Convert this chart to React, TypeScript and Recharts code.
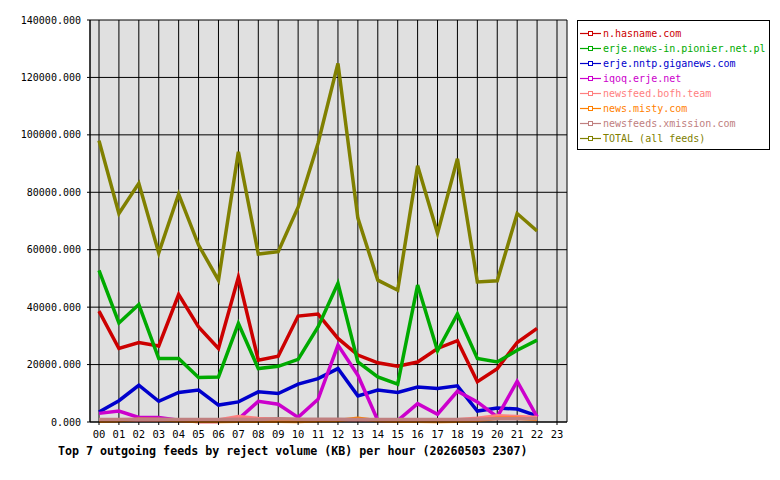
import { LineChart, Line, XAxis, YAxis, CartesianGrid, Legend } from "recharts";

const HOURS = [
  "00", "01", "02", "03", "04", "05", "06", "07", "08", "09", "10", "11",
  "12", "13", "14", "15", "16", "17", "18", "19", "20", "21", "22", "23",
];

// KB per hour, hours 00..22 (23 has no data yet)
const HASNAME = [38600, 25600, 27700, 26500, 44400, 33100, 25600, 50400, 21500, 22900, 36900, 37600, 29100, 23300, 20600, 19400, 20900, 25600, 28300, 14000, 18600, 27700, 32600];
const PIONIER = [52800, 34500, 40900, 22100, 22100, 15500, 15700, 34300, 18600, 19400, 21800, 33100, 48300, 20900, 15700, 13200, 47700, 24800, 37600, 22100, 20900, 25000, 28500];
const GIGANEWS = [3500, 7400, 12800, 7200, 10300, 11100, 5900, 7000, 10500, 9900, 13200, 15100, 18600, 9100, 11100, 10300, 12200, 11700, 12600, 3800, 4900, 4500, 2100];
const IQOQ = [3000, 3800, 1600, 1600, 600, 200, 200, 1000, 7200, 6200, 1600, 7900, 26800, 16300, 500, 500, 6400, 2700, 10700, 7000, 1800, 14200, 1800];
const BOFH = [700, 600, 600, 600, 500, 600, 700, 1900, 1200, 1000, 800, 800, 800, 700, 600, 600, 700, 700, 800, 1300, 2200, 1900, 1600];
const MISTY = [300, 400, 1000, 900, 400, 200, 200, 300, 300, 300, 200, 400, 500, 1300, 400, 300, 300, 200, 300, 500, 1300, 1300, 900];
const XMISSION = [900, 900, 1000, 1000, 900, 900, 900, 1000, 900, 1100, 1000, 1000, 1000, 900, 900, 900, 900, 900, 900, 1000, 1100, 1100, 1100];
const TOTAL = [98000, 72600, 83100, 58900, 79400, 61600, 49400, 94100, 58500, 59300, 74800, 97100, 124900, 71000, 49400, 45900, 89200, 65700, 91700, 48800, 49200, 72600, 66500];

const Y_TICKS = [0, 20000, 40000, 60000, 80000, 100000, 120000, 140000];

const FEEDS = [
  { key: "hasname", name: "n.hasname.com", color: "#cc0000", values: HASNAME },
  { key: "pionier", name: "erje.news-in.pionier.net.pl", color: "#00aa00", values: PIONIER },
  { key: "giganews", name: "erje.nntp.giganews.com", color: "#0000cc", values: GIGANEWS },
  { key: "iqoq", name: "iqoq.erje.net", color: "#cc00cc", values: IQOQ },
  { key: "bofh", name: "newsfeed.bofh.team", color: "#ff8080", values: BOFH },
  { key: "misty", name: "news.misty.com", color: "#ff8000", values: MISTY },
  { key: "xmission", name: "newsfeeds.xmission.com", color: "#c08080", values: XMISSION },
  { key: "total", name: "TOTAL (all feeds)", color: "#808000", values: TOTAL },
];

const data = HOURS.map((hour, i) => {
  const row: Record<string, string | number | null> = { hour };
  FEEDS.forEach((f) => {
    row[f.key] = i < f.values.length ? f.values[i] : null;
  });
  return row;
});

const MONO = "'DejaVu Sans Mono', monospace";

function FeedLegend({ payload }: any) {
  const names = FEEDS.map((f) => f.name);
  const items = [...(payload ?? [])].sort(
    (a: any, b: any) => names.indexOf(a.value) - names.indexOf(b.value),
  );
  return (
    <div
      style={{
        border: "1px solid #000",
        background: "#fff",
        padding: "5px 2px 3px 2px",
        width: 193,
        boxSizing: "border-box",
        fontFamily: MONO,
        fontSize: 10,
      }}
    >
      {items.map((it: any) => (
        <div
          key={it.value}
          style={{ display: "flex", alignItems: "center", height: 15, color: it.color, whiteSpace: "nowrap" }}
        >
          <svg width={21} height={7} style={{ flex: "none" }}>
            <line x1={0} y1={3.5} x2={21} y2={3.5} stroke={it.color} strokeWidth={1.2} />
            <rect x={8.5} y={1.5} width={4} height={4} fill="#fff" stroke={it.color} strokeWidth={1} />
          </svg>
          <span style={{ marginLeft: 2 }}>{it.value}</span>
        </div>
      ))}
    </div>
  );
}

export default function App() {
  return (
    <div style={{ position: "absolute", left: 0, top: 0, width: 780, height: 480, background: "#fff" }}>
      <LineChart
        width={780}
        height={480}
        data={data}
        margin={{ top: 20, right: 213, bottom: 28, left: 0 }}
      >
        <CartesianGrid stroke="#000" strokeWidth={1} fill="#e0e0e0" fillOpacity={1} />
        <XAxis
          dataKey="hour"
          interval={0}
          padding={{ left: 9, right: 10 }}
          height={30}
          tickSize={3}
          tickMargin={6}
          axisLine={{ stroke: "#000" }}
          tickLine={{ stroke: "#000" }}
          tick={{ fill: "#000", fontSize: 10.5, fontFamily: MONO }}
        />
        <YAxis
          width={90}
          domain={[0, 140000]}
          ticks={Y_TICKS}
          tickFormatter={(v: number) => v.toFixed(3)}
          tickSize={3}
          tickMargin={6}
          axisLine={{ stroke: "#000" }}
          tickLine={{ stroke: "#000" }}
          tick={{ fill: "#000", fontSize: 10, fontFamily: MONO }}
        />
        <YAxis
          yAxisId="right"
          orientation="right"
          width={0}
          domain={[0, 140000]}
          tick={false}
          tickLine={false}
          axisLine={{ stroke: "#000" }}
        />
        <Legend
          layout="horizontal"
          verticalAlign="middle"
          wrapperStyle={{ left: 577, top: 20, width: 193 }}
          content={<FeedLegend />}
        />
        {FEEDS.map((f) => (
          <Line
            key={f.key}
            type="linear"
            dataKey={f.key}
            name={f.name}
            stroke={f.color}
            strokeWidth={3.5}
            dot={false}
            activeDot={false}
            isAnimationActive={false}
          />
        ))}
      </LineChart>
      <div
        style={{
          position: "absolute",
          left: 58,
          top: 445,
          fontFamily: MONO,
          fontSize: 11.65,
          fontWeight: "bold",
          lineHeight: "13px",
          whiteSpace: "nowrap",
          color: "#000",
        }}
      >
        Top 7 outgoing feeds by reject volume (KB) per hour (20260503 2307)
      </div>
    </div>
  );
}
